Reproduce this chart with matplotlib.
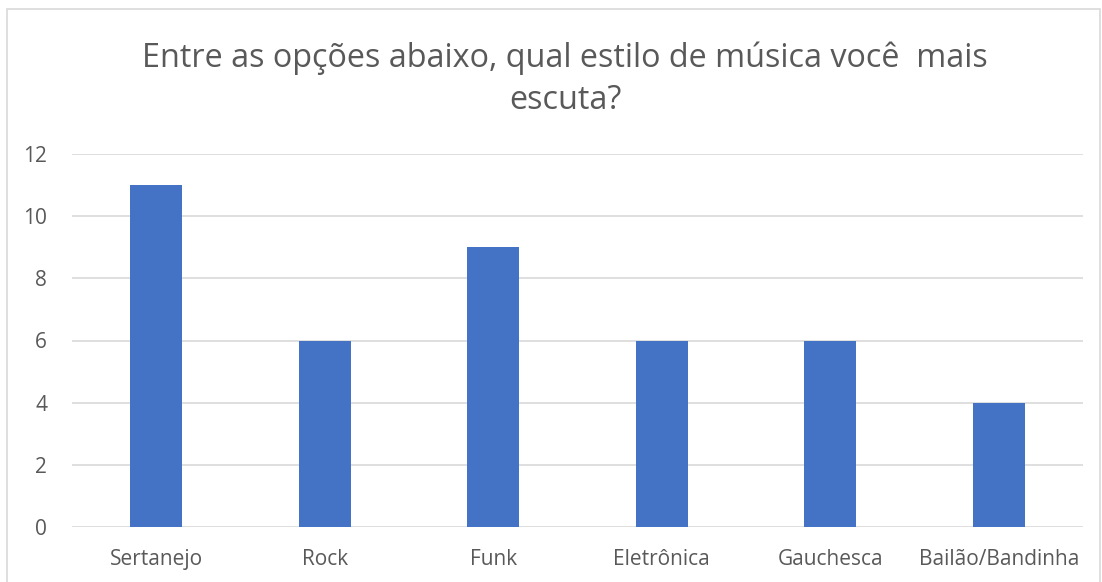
import matplotlib
matplotlib.use("Agg")
import matplotlib.pyplot as plt
from matplotlib.patches import Rectangle

categories = ["Sertanejo", "Rock", "Funk", "Eletrônica", "Gauchesca", "Bailão/Bandinha"]
values = [11, 6, 9, 6, 6, 4]
yticks = [0, 2, 4, 6, 8, 10, 12]
title = "Entre as opções abaixo, qual estilo de música você  mais\nescuta?"

plt.rcParams['font.family'] = ['Open Sans', 'DejaVu Sans']
fig = plt.figure(figsize=(11.02, 5.82), dpi=100)
fig.patches.append(Rectangle((7/1102, -0.1), 1093/1102, 1 - 9/582 + 0.1, transform=fig.transFigure,
                             fill=False, edgecolor='#d9d9d9', linewidth=1.2))
ax = fig.add_axes([72/1102, 55/582, 1011/1102, 373/582])
x = list(range(len(categories)))
ax.bar(x, values, width=0.31, color='#4472C4', zorder=3)
ax.set_xlim(-0.5, len(categories) - 0.5)
ax.set_ylim(0, 12)
ax.set_yticks(yticks)
ax.set_xticks(x)
ax.set_xticklabels(categories)
ax.grid(axis='y', color='#d9d9d9', linewidth=1.2, zorder=0)
for s in ax.spines.values():
    s.set_visible(False)
ax.tick_params(length=0, labelsize=15, colors='#595959')
ax.tick_params(axis='x', pad=16)
ax.tick_params(axis='y', pad=18)
fig.text(565/1102, 1 - 79/582, title, ha='center', va='center', fontsize=23.3, color='#595959',
         linespacing=1.37)
fig.savefig("out.png", dpi=100)
